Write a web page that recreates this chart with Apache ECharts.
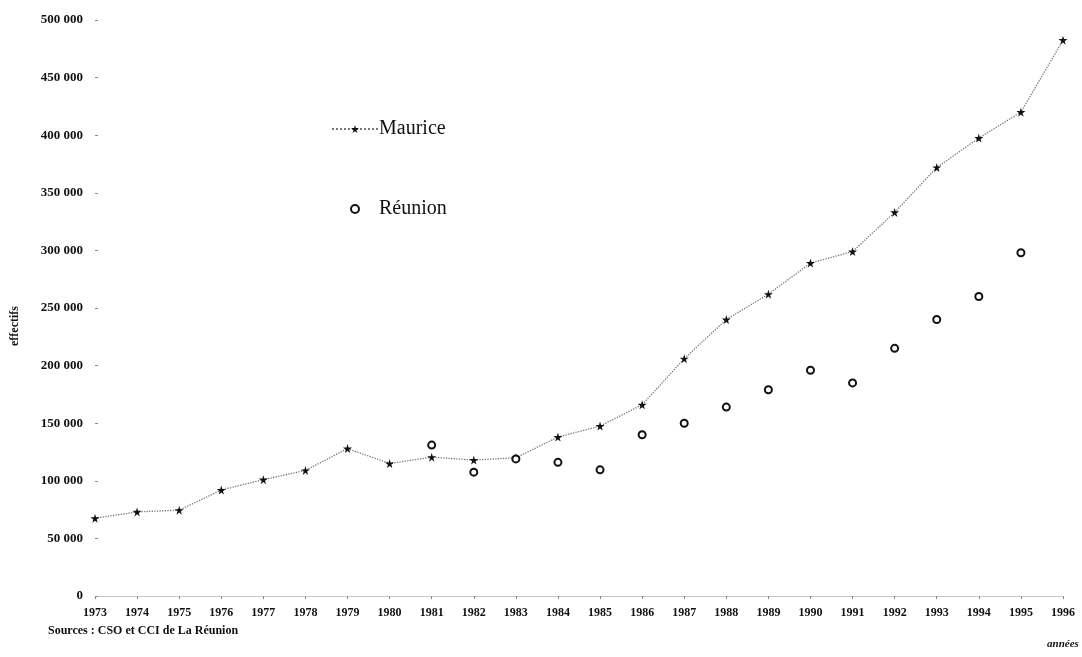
<!DOCTYPE html>
<html>
<head>
<meta charset="utf-8">
<script src="https://cdn.jsdelivr.net/npm/echarts@6/dist/echarts.min.js"></script>
<style>
html,body{margin:0;padding:0;background:#fff;}
#chart{width:1082px;height:657px;}
</style>
</head>
<body>
<div id="chart"></div>
<script>
var years = ['1973','1974','1975','1976','1977','1978','1979','1980','1981','1982','1983','1984','1985','1986','1987','1988','1989','1990','1991','1992','1993','1994','1995','1996'];
var maurice = [67500, 73000, 74500, 92000, 101000, 109000, 128000, 115000, 120500, 118000, 120000, 138000, 147500, 166000, 206000, 240000, 262000, 289000, 299000, 333000, 372000, 397500, 420000, 482500];
var reunion = [null, null, null, null, null, null, null, null, 131000, 107500, 119000, 116000, 109500, 140000, 150000, 164000, 179000, 196000, 185000, 215000, 240000, 260000, 298000, null];
var yTicks = {min: 0, max: 500000, step: 50000};

var starPath = 'path://M50,0 L61,35 L98,35 L68,57 L79,91 L50,70 L21,91 L32,57 L2,35 L39,35 Z';
var serif = '"Liberation Serif", "DejaVu Serif", serif';

var chart = echarts.init(document.getElementById('chart'), null, {renderer: 'canvas'});
chart.setOption({
  backgroundColor: '#ffffff',
  animation: false,
  grid: {left: 95, right: 19, top: 20, bottom: 61, containLabel: false},
  legend: {
    orient: 'vertical',
    left: 326,
    top: 114,
    itemGap: 60,
    itemWidth: 46,
    itemHeight: 10,
    textStyle: {fontFamily: serif, fontSize: 20, color: '#111', padding: [0, 0, 0, -4]},
    data: [{name: 'Maurice'}, {name: 'Réunion'}]
  },
  xAxis: {
    type: 'category',
    data: years,
    boundaryGap: false,
    axisLine: {show: true, lineStyle: {color: '#bbb', type: 'dotted', width: 1}},
    axisTick: {show: true, alignWithLabel: true, length: 3, lineStyle: {color: '#888'}},
    axisLabel: {fontFamily: serif, fontSize: 12, fontWeight: 'bold', color: '#111', margin: 11, interval: 0},
    splitLine: {show: false},
    name: 'années',
    nameLocation: 'end',
    nameGap: 0,
    nameTextStyle: {fontFamily: serif, fontSize: 11, fontWeight: 'bold', fontStyle: 'italic', color: '#111', align: 'center', verticalAlign: 'top', padding: [43, 0, 0, 0]}
  },
  yAxis: {
    type: 'value',
    min: yTicks.min,
    max: yTicks.max,
    interval: yTicks.step,
    axisLine: {show: false},
    axisTick: {show: true, inside: true, length: 3, lineStyle: {color: '#888'}},
    splitLine: {show: false},
    axisLabel: {
      fontFamily: serif, fontSize: 13, fontWeight: 'bold', color: '#111', margin: 12,
      formatter: function (v) { return v === 0 ? '0' : String(v).replace(/\B(?=(\d{3})+(?!\d))/g, ' '); }
    },
    name: 'effectifs',
    nameLocation: 'middle',
    nameGap: 74,
    nameRotate: 90,
    nameTextStyle: {fontFamily: serif, fontSize: 12, fontWeight: 'bold', color: '#111', padding: [0, 0, 0, -36]}
  },
  series: [
    {
      name: 'Maurice',
      type: 'line',
      data: maurice,
      symbol: starPath,
      symbolSize: 9,
      showAllSymbol: true,
      itemStyle: {color: '#111'},
      lineStyle: {color: '#777', type: 'dotted', width: 1.3},
      z: 3
    },
    {
      name: 'Réunion',
      type: 'line',
      data: reunion,
      symbol: 'emptyCircle',
      symbolSize: 7,
      showAllSymbol: true,
      connectNulls: false,
      itemStyle: {color: '#111', borderColor: '#111', borderWidth: 1.6},
      lineStyle: {opacity: 0, width: 0},
      z: 4
    }
  ],
  graphic: [
    {
      type: 'text', left: 48, top: 625,
      style: {text: 'Sources : CSO et CCI de La Réunion', font: 'bold 12px ' + serif, fill: '#111'}
    }
  ]
});
</script>
</body>
</html>
